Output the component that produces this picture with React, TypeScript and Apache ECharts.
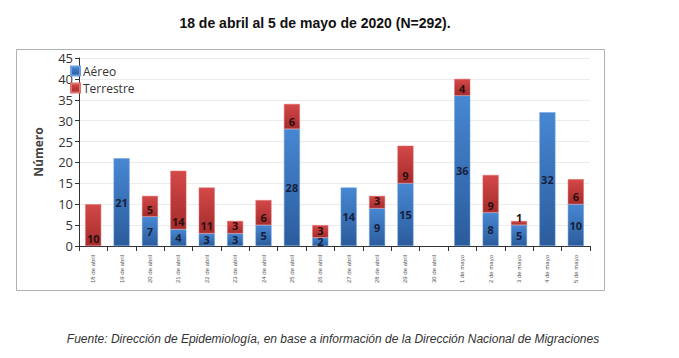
import React, { useEffect, useRef } from "react";
import * as echarts from "echarts";

const categories = [
  "18 de abril", "19 de abril", "20 de abril", "21 de abril", "22 de abril",
  "23 de abril", "24 de abril", "25 de abril", "26 de abril", "27 de abril",
  "28 de abril", "29 de abril", "30 de abril", "1 de mayo", "2 de mayo",
  "3 de mayo", "4 de mayo", "5 de mayo",
];
const aereo = [0, 21, 7, 4, 3, 3, 5, 28, 2, 14, 9, 15, 0, 36, 8, 5, 32, 10];
const terrestre = [10, 0, 5, 14, 11, 3, 6, 6, 3, 0, 3, 9, 0, 4, 9, 1, 0, 6];
const yTicks = { min: 0, max: 45, interval: 5 };

const titleText = "18 de abril al 5 de mayo de 2020 (N=292).";
const footerText =
  "Fuente: Dirección de Epidemiología, en base a información de la Dirección Nacional de Migraciones";

export default function App() {
  const ref = useRef<HTMLDivElement>(null);
  useEffect(() => {
    document.body.style.margin = "0";
    const chart = echarts.init(ref.current!, null, { renderer: "svg" });
    const blue = new echarts.graphic.LinearGradient(0, 0, 0, 1, [
      { offset: 0, color: "#4787d2" },
      { offset: 1, color: "#2b5c9c" },
    ]);
    const red = new echarts.graphic.LinearGradient(0, 0, 0, 1, [
      { offset: 0, color: "#d44848" },
      { offset: 1, color: "#a52c2c" },
    ]);
    const noZero = (arr: number[]) => arr.map((v) => (v ? v : "-"));
    chart.setOption({
      animation: false,
      textStyle: { fontFamily: "Open Sans" },
      title: {
        text: titleText,
        left: 310,
        textAlign: "center",
        top: 11,
        textStyle: {
          fontFamily: "Liberation Sans",
          fontSize: 14,
          fontWeight: "bold",
          color: "#111",
        },
      },
      legend: {
        orient: "vertical",
        left: 68,
        top: 62,
        padding: 2,
        itemWidth: 9,
        itemHeight: 9,
        itemGap: 3,
        icon: "rect",
        textStyle: {
          fontFamily: "Open Sans",
          fontSize: 12,
          lineHeight: 14,
          color: "#333",
          padding: [0, 0, 0, -2],
        },
        data: ["Aéreo", "Terrestre"],
      },
      grid: { left: 79, right: 89, top: 58, bottom: 112 },
      xAxis: {
        type: "category",
        data: categories,
        boundaryGap: true,
        axisLine: { lineStyle: { color: "#333" } },
        axisTick: { show: true, length: 5, lineStyle: { color: "#333" } },
        axisLabel: {
          rotate: 90,
          interval: 0,
          fontSize: 6,
          color: "#555",
          margin: 9,
          fontFamily: "Liberation Sans",
        },
      },
      yAxis: {
        type: "value",
        min: yTicks.min,
        max: yTicks.max,
        interval: yTicks.interval,
        name: "Número",
        nameLocation: "middle",
        nameGap: 35,
        nameTextStyle: { fontSize: 12, fontWeight: "bold", color: "#444", fontFamily: "Open Sans" },
        axisLine: { show: true, lineStyle: { color: "#333" } },
        axisTick: { show: true, length: 4, lineStyle: { color: "#333" } },
        axisLabel: { fontSize: 13, color: "#333", margin: 6 },
        splitLine: { lineStyle: { color: "#ececec" } },
      },
      series: [
        {
          name: "Aéreo",
          type: "bar",
          stack: "total",
          data: noZero(aereo),
          barWidth: 16,
          itemStyle: { color: blue, borderColor: "#6a9ee0", borderWidth: 0.5 },
          label: {
            show: true,
            position: "inside",
            fontSize: 11,
            lineHeight: 11,
            fontWeight: "bold",
            color: "#16203a",
          },
        },
        {
          name: "Terrestre",
          type: "bar",
          stack: "total",
          data: noZero(terrestre),
          barWidth: 16,
          itemStyle: { color: red, borderColor: "#e07070", borderWidth: 0.5 },
          label: {
            show: true,
            position: "insideBottom",
            distance: 2,
            fontSize: 11,
            lineHeight: 11,
            fontWeight: "bold",
            color: "#2a1010",
          },
        },
      ],
      graphic: [
        {
          type: "rect",
          shape: { x: 16.5, y: 49.5, width: 588, height: 241 },
          style: { fill: "none", stroke: "#b0b0b0", lineWidth: 1 },
          silent: true,
        },
        {
          type: "text",
          x: 333,
          y: 339,
          style: {
            text: footerText,
            fontFamily: "Liberation Sans",
            fontStyle: "italic",
            fontSize: 12,
            fill: "#333",
            textAlign: "center",
            textVerticalAlign: "middle",
          },
        },
      ],
    });
    return () => chart.dispose();
  }, []);
  return <div ref={ref} style={{ width: 679, height: 358 }} />;
}
